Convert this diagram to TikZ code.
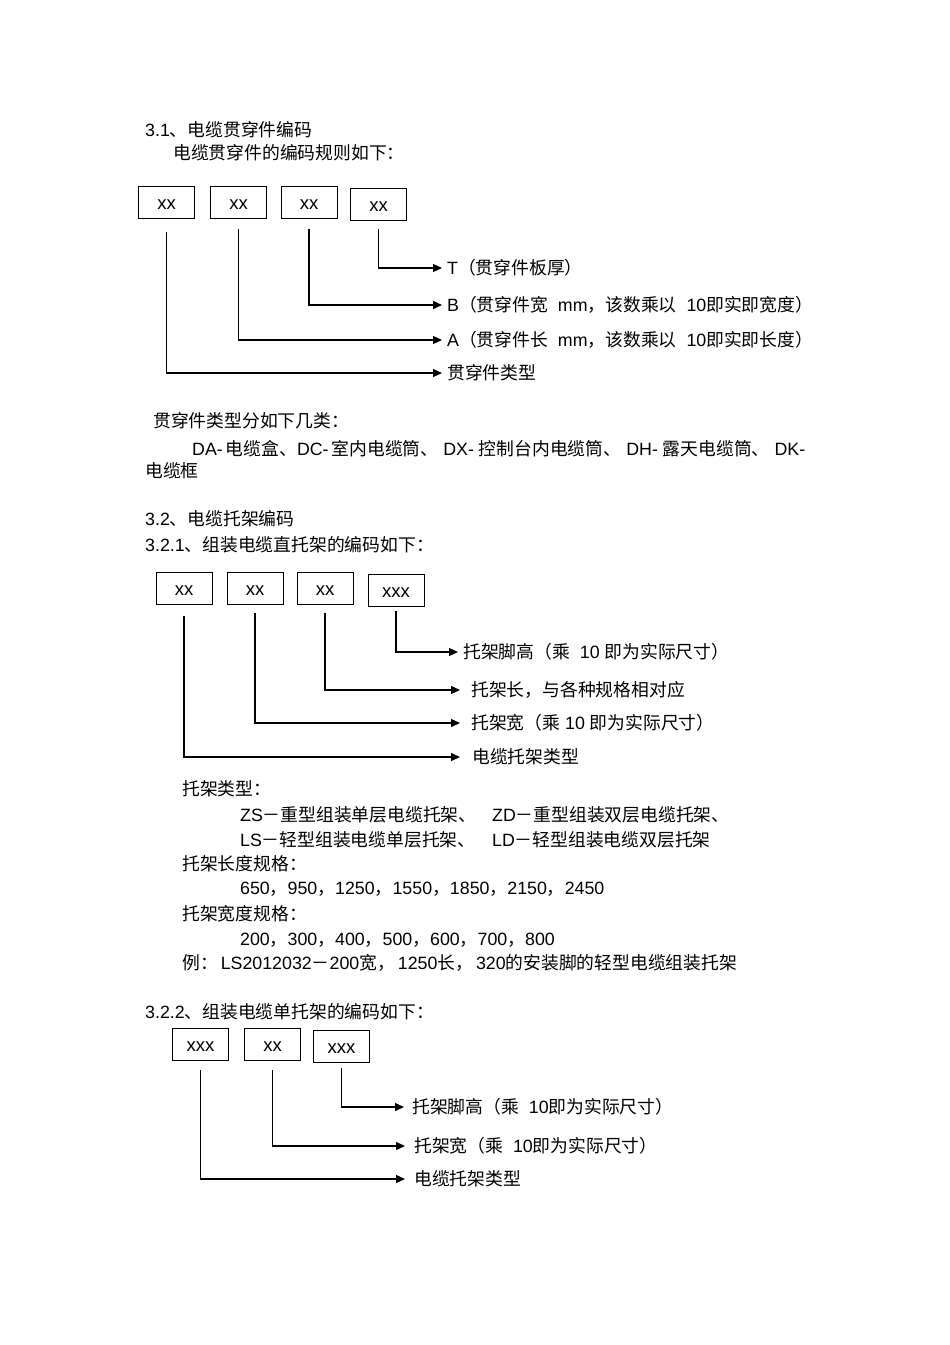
\documentclass[tikz,border=0pt]{standalone}
\usepackage{fontspec}
\setmainfont{Liberation Sans}
\newfontfamily\cjkf{Noto Sans CJK SC}
\newfontfamily\latf{Liberation Sans}
\usetikzlibrary{arrows.meta}
\XeTeXinterchartokenstate=1
\newXeTeXintercharclass\CJKcls
\makeatletter
\def\setcjkrange#1#2{\count@=#1\relax\loop\XeTeXcharclass\count@=\CJKcls\relax\ifnum\count@<#2\relax\advance\count@ by 1\relax\repeat}
\setcjkrange{"4E00}{"9FFF}
\setcjkrange{"3000}{"303F}
\setcjkrange{"FF00}{"FFEF}
\makeatother
\XeTeXinterchartoks 0 \CJKcls = {\cjkf}
\XeTeXinterchartoks 4095 \CJKcls = {\cjkf}
\XeTeXinterchartoks \CJKcls 0 = {\latf}
\XeTeXinterchartoks \CJKcls 4095 = {\latf}
\tikzset{
  txt/.style={anchor=west, inner sep=0pt, font=\fontsize{17.8pt}{21pt}\selectfont},
  lbl/.style={anchor=west, inner sep=0pt, font=\fontsize{17.8pt}{21pt}\selectfont},
  codebox/.style={draw, line width=0.9pt, minimum width=56pt, minimum height=32pt, inner sep=0pt,
    text height=14pt, text depth=0pt, font=\fontsize{18.5pt}{21pt}\selectfont},
  conn/.style={line width=1.2pt, -{Triangle[length=9pt,width=8pt]}}
}
\begin{document}
\begin{tikzpicture}[x=1pt,y=-1pt]
\useasboundingbox (0,0) rectangle (950,1345);
\fill[white] (0,0) rectangle (950,1345);

% ---------- 3.1 ----------
\node[txt] (t1) at (145,130) {3.1、电缆贯穿件编码};
\node[txt] (t2) at (173,153) {电缆贯穿件的编码规则如下：};

\node[codebox] (b1) at (166.5,202.5) {xx};
\node[codebox] (b2) at (238.5,202) {xx};
\node[codebox] (b3) at (309,202) {xx};
\node[codebox] (b4) at (378.5,204) {xx};

\node[lbl] (lT) at (447,268) {T（贯穿件板厚）};
\node[lbl] (lB) at (447,305) {B（贯穿件宽\ \ mm，该数乘以\ \ 10即实即宽度）};
\node[lbl] (lA) at (447,340) {A（贯穿件长\ \ mm，该数乘以\ \ 10即实即长度）};
\node[lbl] (lK) at (447,373) {贯穿件类型};

\draw[conn] ([yshift=-9pt]b4.south) |- ([xshift=-5pt]lT.west);
\draw[conn] ([yshift=-11pt]b3.south) |- ([xshift=-5pt]lB.west);
\draw[conn] ([yshift=-11pt]b2.south) |- ([xshift=-5pt]lA.west);
\draw[conn] ([yshift=-13pt]b1.south) |- ([xshift=-5pt]lK.west);

\node[txt] (t3) at (153,421) {贯穿件类型分如下几类：};
\node[txt] (t4) at (192,449) {DA-\,电缆盒、DC-\,室内电缆筒、\ DX-\ 控制台内电缆筒、\ DH-\ 露天电缆筒、\ DK-};
\node[txt] (t5) at (145,471) {电缆框};

% ---------- 3.2 ----------
\node[txt] (t6) at (145,519) {3.2、电缆托架编码};
\node[txt] (t7) at (145,545) {3.2.1、组装电缆直托架的编码如下：};

\node[codebox] (c1) at (184,588.5) {xx};
\node[codebox] (c2) at (255,588.5) {xx};
\node[codebox] (c3) at (325,588.5) {xx};
\node[codebox] (c4) at (396,590) {xxx};

\node[lbl] (m1) at (463,652) {托架脚高（乘\ \ 10\ 即为实际尺寸）};
\node[lbl] (m2) at (471,690) {托架长，与各种规格相对应};
\node[lbl] (m3) at (471,723) {托架宽（乘\ 10\ 即为实际尺寸）};
\node[lbl] (m4) at (472,757) {电缆托架类型};

\draw[conn] ([yshift=-5pt]c4.south) |- ([xshift=-5pt]m1.west);
\draw[conn] ([yshift=-8pt]c3.south) |- ([xshift=-11pt]m2.west);
\draw[conn] ([yshift=-8pt]c2.south) |- ([xshift=-11pt]m3.west);
\draw[conn] ([yshift=-11pt]c1.south) |- ([xshift=-12pt]m4.west);

\node[txt] (t8) at (182,789) {托架类型：};
\node[txt] (t9a) at (240,815) {ZS－重型组装单层电缆托架、};
\node[txt] (t9b) at (492,815) {ZD－重型组装双层电缆托架、};
\node[txt] (t10a) at (240,840) {LS－轻型组装电缆单层托架、};
\node[txt] (t10b) at (492,840) {LD－轻型组装电缆双层托架};
\node[txt] (t11) at (182,864) {托架长度规格：};
\node[txt] (t12) at (240,889) {650，950，1250，1550，1850，2150，2450};
\node[txt] (t13) at (182,914) {托架宽度规格：};
\node[txt] (t14) at (240,940) {200，300，400，500，600，700，800};
\node[txt] (t15) at (182,963) {例：\,LS2012032－200宽，\,1250长，\,320的安装脚的轻型电缆组装托架};

% ---------- 3.2.2 ----------
\node[txt] (t16) at (145,1012) {3.2.2、组装电缆单托架的编码如下：};

\node[codebox] (d1) at (200.5,1044) {xxx};
\node[codebox] (d2) at (272.5,1044) {xx};
\node[codebox] (d3) at (341.5,1046) {xxx};

\node[lbl] (n1) at (412,1107) {托架脚高（乘\ \ 10即为实际尺寸）};
\node[lbl] (n2) at (414,1146) {托架宽（乘\ \ 10即为实际尺寸）};
\node[lbl] (n3) at (414,1179) {电缆托架类型};

\draw[conn] ([yshift=-6pt]d3.south) |- ([xshift=-8pt]n1.west);
\draw[conn] ([yshift=-10pt]d2.south) |- ([xshift=-9pt]n2.west);
\draw[conn] ([yshift=-10pt]d1.south) |- ([xshift=-9pt]n3.west);
\end{tikzpicture}
\end{document}
